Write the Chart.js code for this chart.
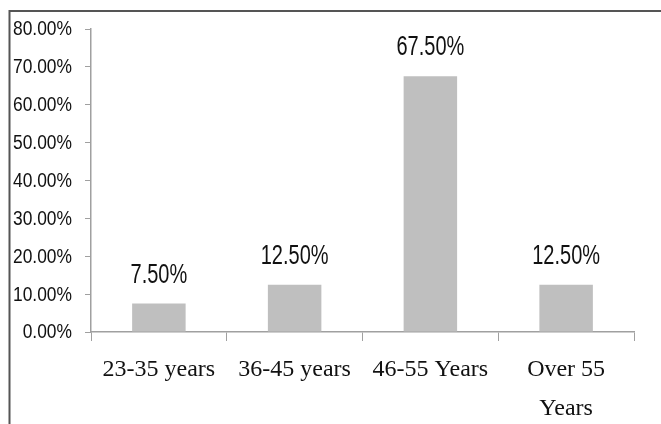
<!DOCTYPE html>
<html>
<head>
<meta charset="utf-8">
<script src="https://cdn.jsdelivr.net/npm/chart.js@4"></script>
<style>
html,body{margin:0;padding:0;background:#fff;}
#wrap{position:relative;width:661px;height:424px;}
</style>
</head>
<body>
<div id="wrap"><canvas id="c" width="661" height="424"></canvas></div>
<script>
const categories = ["23-35 years", "36-45 years", "46-55 Years", ["Over 55", "Years"]];
const shares = [7.5, 12.5, 67.5, 12.5];
const yTickMax = 80;
const yTickStep = 10;

const fmtPct = v => v.toFixed(2) + '%';

const framePlugin = {
  id: 'frame',
  beforeDraw(chart) {
    const ctx = chart.ctx;
    ctx.save();
    ctx.fillStyle = '#fff';
    ctx.fillRect(0, 0, chart.width, chart.height);
    ctx.strokeStyle = '#555';
    ctx.lineWidth = 2;
    ctx.beginPath();
    ctx.moveTo(9.5, 424);
    ctx.lineTo(9.5, 11);
    ctx.lineTo(661, 11);
    ctx.stroke();
    ctx.restore();
  }
};

// y tick labels drawn from the library's y scale, with a slight vertical stretch
const yLabelPlugin = {
  id: 'ylabels',
  afterDraw(chart) {
    const ctx = chart.ctx;
    const s = chart.scales.y;
    ctx.save();
    ctx.fillStyle = '#111';
    ctx.textAlign = 'right';
    ctx.textBaseline = 'middle';
    ctx.font = '17.4px "Liberation Sans", Arial, sans-serif';
    s.ticks.forEach(t => {
      const py = s.getPixelForValue(t.value);
      ctx.save();
      ctx.translate(s.right - 19, py + 1);
      ctx.scale(1, 1.13);
      ctx.fillText(fmtPct(t.value), 0, 0);
      ctx.restore();
    });
    ctx.restore();
  }
};

const labelPlugin = {
  id: 'vals',
  afterDatasetsDraw(chart) {
    const ctx = chart.ctx;
    const meta = chart.getDatasetMeta(0);
    ctx.save();
    ctx.fillStyle = '#111';
    ctx.textAlign = 'center';
    ctx.textBaseline = 'alphabetic';
    ctx.font = '20px "Liberation Sans", Arial, sans-serif';
    meta.data.forEach((bar, i) => {
      const v = chart.data.datasets[0].data[i];
      ctx.save();
      ctx.translate(bar.x, bar.y - 21);
      ctx.scale(1, 1.35);
      ctx.fillText(fmtPct(v), 0, 0);
      ctx.restore();
    });
    ctx.restore();
  }
};

new Chart(document.getElementById('c'), {
  type: 'bar',
  data: {
    labels: categories,
    datasets: [{
      data: shares,
      backgroundColor: '#bfbfbf',
      borderWidth: 0,
      categoryPercentage: 1,
      barPercentage: 0.394
    }]
  },
  options: {
    responsive: false,
    animation: false,
    devicePixelRatio: 1,
    layout: { padding: { left: 0, right: 27, top: 29, bottom: 0 } },
    plugins: { legend: { display: false }, tooltip: { enabled: false } },
    scales: {
      x: {
        afterFit(s) { s.height = 92; },
        grid: { display: true, drawOnChartArea: false, drawTicks: true, tickLength: 9, color: '#a0a0a0', offset: true },
        border: { display: true, color: '#a0a0a0', width: 1.5 },
        ticks: {
          color: '#111',
          padding: 10,
          maxRotation: 0,
          autoSkip: false,
          font: { family: '"Liberation Serif", "Times New Roman", serif', size: 24, lineHeight: 1.6 }
        }
      },
      y: {
        min: 0,
        max: yTickMax,
        afterFit(s) { s.width = 91; },
        grid: { display: true, drawOnChartArea: false, drawTicks: true, tickLength: 6, color: '#a0a0a0' },
        border: { display: true, color: '#a0a0a0', width: 1.5 },
        ticks: {
          stepSize: yTickStep,
          color: 'rgba(0,0,0,0)',
          padding: 13,
          font: { family: '"Liberation Sans", Arial, sans-serif', size: 17 },
          callback: v => fmtPct(v)
        }
      }
    }
  },
  plugins: [framePlugin, yLabelPlugin, labelPlugin]
});
</script>
</body>
</html>
